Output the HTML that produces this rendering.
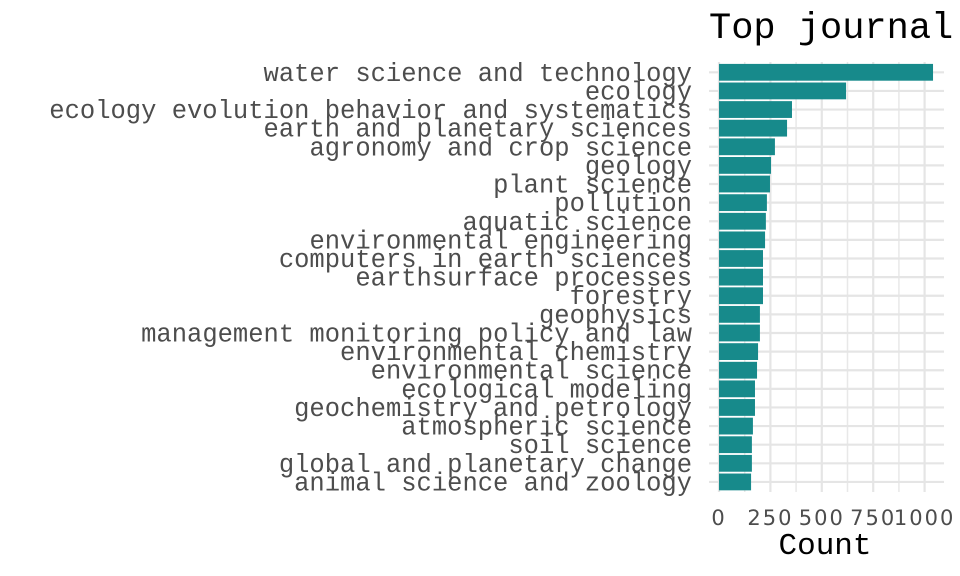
<!DOCTYPE html>
<html><head><meta charset="utf-8"><style>
body{margin:0;background:#fff}
svg{display:block}
</style></head><body>
<svg id="chart" width="960" height="576" xmlns="http://www.w3.org/2000/svg">
<g id="grid"></g><g id="bars"></g><g id="ylabels"></g><g id="xticks"></g>
<text x="709" y="38" font-family="Liberation Mono, monospace" font-size="37" fill="#000">Top journal</text>
<text x="825" y="554" text-anchor="middle" font-family="Liberation Mono, monospace" font-size="31" fill="#000">Count</text>
</svg>
<script>
const categories = ["water science and technology","ecology","ecology evolution behavior and systematics","earth and planetary sciences","agronomy and crop science","geology","plant science","pollution","aquatic science","environmental engineering","computers in earth sciences","earthsurface processes","forestry","geophysics","management monitoring policy and law","environmental chemistry","environmental science","ecological modeling","geochemistry and petrology","atmospheric science","soil science","global and planetary change","animal science and zoology"];
const counts = [1041,618,355,331,272,253,248,233,228,224,214,214,214,199,199,190,185,175,175,165,160,160,156];
const xTicks = [0,250,500,750,1000];
const xTickLabels = ["0","250","500","750","1000"];
const minorTicks = [125,375,625,875,1125];

const NS="http://www.w3.org/2000/svg";
const x0=719, pxPerUnit=0.2056, panelL=709, panelR=944, panelT=62, panelB=492;
const yTop=72.3, step=18.62, bh=16.8;
function xs(v){return x0+v*pxPerUnit;}
function ys(i){return yTop+i*step;}
function mk(tag,attrs,parent){const e=document.createElementNS(NS,tag);for(const k in attrs)e.setAttribute(k,attrs[k]);parent.appendChild(e);return e;}
const grid=document.getElementById('grid'),bars=document.getElementById('bars'),yl=document.getElementById('ylabels'),xt=document.getElementById('xticks');
minorTicks.forEach(v=>{const x=xs(v);if(x>panelR)return;
 const l=mk('line',{x1:x,x2:x,y1:panelT,y2:panelB,stroke:'#e8e8e8','stroke-width':1.5},grid);
 
 });
xTicks.forEach((v,i)=>{const x=xs(v);
 const l=mk('line',{x1:x,x2:x,y1:panelT,y2:panelB,stroke:'#e5e5e5','stroke-width':2.2},grid);
 
 
 const t=mk('text',{x:x,y:525,'text-anchor':'middle','font-family':'DejaVu Sans, sans-serif','font-size':21,'letter-spacing':2,fill:'#4d4d4d'},xt);
 t.textContent=xTickLabels[i];
 
 });
categories.forEach((c,i)=>{const y=ys(i);
 const l=mk('line',{x1:panelL,x2:panelR,y1:y,y2:y,stroke:'#e5e5e5','stroke-width':2.2},grid);
 
 
 const r=mk('rect',{x:x0,y:y-bh/2,width:xs(counts[i])-x0,height:bh,fill:'#178a8b'},bars);
 
 
 const t=mk('text',{x:692,y:y+8.5,'text-anchor':'end','font-family':'Liberation Mono, monospace','font-size':25.5,fill:'#4d4d4d'},yl);
 t.textContent=c;
 
 });
</script>
</body></html>
